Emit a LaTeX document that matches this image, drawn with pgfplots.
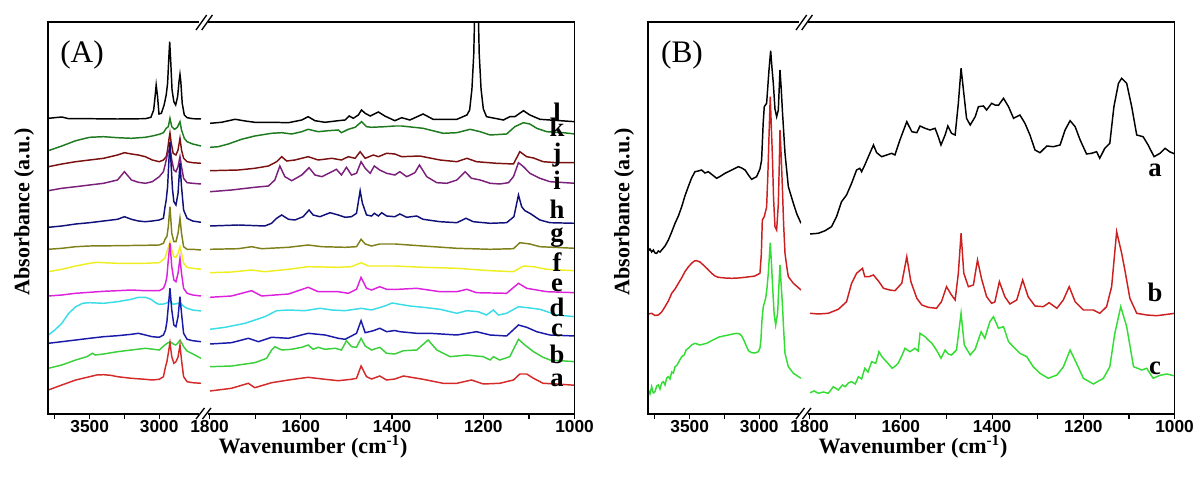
\documentclass[border=0pt]{standalone}
\usepackage{pgfplots}
\pgfplotsset{compat=1.18}
\usepackage{fontspec}
\setmainfont{Liberation Serif}
\setsansfont{Liberation Sans}
\definecolor{cA}{HTML}{D42A2A}
\definecolor{cB}{HTML}{3CCF3C}
\definecolor{cC}{HTML}{1A1AA8}
\definecolor{cD}{HTML}{3ADCE8}
\definecolor{cE}{HTML}{DD22DD}
\definecolor{cF}{HTML}{EEEE22}
\definecolor{cG}{HTML}{80801A}
\definecolor{cH}{HTML}{10107A}
\definecolor{cI}{HTML}{7A207A}
\definecolor{cJ}{HTML}{7A1010}
\definecolor{cK}{HTML}{1E7A1E}
\definecolor{bR}{HTML}{CC1F1F}
\definecolor{bG}{HTML}{33DD33}
\pgfplotsset{
 brk/.style={scale only axis, height=294pt, ymin=0, ymax=392, ytick=\empty, x dir=reverse,
   axis line style={draw=none}, xtick pos=left, tick align=outside, major tick length=3.75pt,
   tick style={black, line width=0.9pt},
   xticklabel style={font=\sffamily\bfseries\fontsize{13}{14}\selectfont, yshift=2.2pt},
   every axis plot/.append style={line width=1.1pt, no markers}},
 segL/.style={brk, width=114.83pt, xmin=2700, xmax=3800, xtick={3750,3500,3250,3000}, xticklabels={,3500,,3000}},
 segR/.style={brk, width=273.75pt, xmin=1000, xmax=1800, xtick={1800,1700,1600,1500,1400,1300,1200,1100,1000}, xticklabels={1800,,1600,,1400,,1200,,1000}},
}
\begin{document}
\begin{tikzpicture}
\path[use as bounding box] (0,0) rectangle (900pt,366.75pt);
% ===== Panel A, left segment =====
\begin{axis}[segL, at={(35.925pt,56.25pt)}, anchor=south west]
\addplot[black] coordinates {(3797,295.7)(3700,297)(3650,295.3)(3500,295.3)(3300,295)(3100,295.3)(3060,296.7)(3040,304)(3030,317.3)(3022,329)(3012,317.3)(3002,300)(2985,300.7)(2965,309)(2950,319)(2940,330.7)(2932,354)(2925,372.3)(2918,354)(2908,324)(2895,312.3)(2882,309)(2868,317.3)(2858,332.3)(2851,339.7)(2845,332.3)(2835,310.7)(2820,299)(2800,296.3)(2760,295.3)(2700,295)};
\addplot[cK] coordinates {(3797,263.3)(3700,268)(3600,273.3)(3500,276.7)(3400,277.3)(3300,276.3)(3200,275.7)(3100,276.7)(3050,278)(3000,279.7)(2970,281.3)(2950,285.7)(2935,287.3)(2923,295.7)(2910,287.3)(2890,284.7)(2870,286.7)(2851,292.3)(2840,284)(2820,275.7)(2800,272.3)(2760,270)(2700,268)};
\addplot[cJ] coordinates {(3797,247.3)(3700,250)(3600,252.3)(3500,254)(3400,255.7)(3300,259)(3250,261.3)(3200,260)(3150,259)(3100,257.3)(3050,254)(3000,252.3)(2970,254)(2950,257.3)(2940,264)(2930,275)(2923,281)(2915,272)(2900,260.7)(2880,259)(2865,264)(2851,275.7)(2840,264)(2825,255.7)(2800,252.3)(2760,251.3)(2700,250.7)};
\addplot[cI] coordinates {(3797,223.3)(3700,225.7)(3600,227.3)(3500,229)(3400,230.7)(3300,234)(3280,237.3)(3250,242.3)(3220,237.3)(3200,234)(3150,231.7)(3100,230.7)(3050,232.3)(3000,237.3)(2970,242.3)(2955,250.7)(2940,260.7)(2923,266)(2910,254)(2895,244)(2880,242.3)(2865,247.3)(2851,257.3)(2840,247.3)(2825,235.7)(2800,231.3)(2760,230.7)(2700,230)};
\addplot[cH] coordinates {(3797,186.7)(3700,188)(3600,190)(3500,191.3)(3400,193)(3300,194.7)(3250,197.3)(3200,194.7)(3150,193)(3100,192.3)(3050,193)(3000,194)(2970,195.7)(2960,205.7)(2950,214)(2940,227.3)(2930,255)(2923,272)(2915,250)(2905,225)(2895,212.3)(2880,209)(2865,220.7)(2851,250.7)(2840,227.3)(2825,204)(2800,195.7)(2760,193)(2700,191.7)};
\addplot[cG] coordinates {(3797,164.7)(3700,165.7)(3600,167.3)(3500,168)(3300,168.3)(3100,168.7)(3000,169)(2970,170.7)(2955,175.7)(2945,177.3)(2935,187.3)(2923,207.3)(2910,180.7)(2895,172.3)(2880,172.3)(2865,180.7)(2851,195.7)(2840,180.7)(2825,167.3)(2800,164.7)(2760,164.7)(2700,164)};
\addplot[cF] coordinates {(3797,142.3)(3700,144.7)(3600,148)(3500,150.7)(3450,151.7)(3400,151.3)(3300,150.7)(3100,150.7)(3000,151.3)(2960,155.7)(2940,164)(2923,172.3)(2910,164)(2895,157.3)(2880,156.7)(2865,160.7)(2851,167.3)(2840,160.7)(2825,150.7)(2800,146.7)(2760,145.7)(2700,144.7)};
\addplot[cE] coordinates {(3797,118)(3700,119)(3600,120.7)(3500,121.7)(3400,122.7)(3300,123.3)(3200,124)(3100,123.3)(3000,123.3)(2970,125.7)(2955,130.7)(2945,137.3)(2935,154)(2923,170.7)(2910,147.3)(2895,134)(2880,132.3)(2865,140.7)(2851,155.7)(2840,140.7)(2825,125.7)(2800,120.7)(2760,119)(2700,118)};
\addplot[cD] coordinates {(3797,79)(3750,84)(3700,90.7)(3650,100.7)(3600,107.3)(3550,110.7)(3500,111.3)(3400,110.7)(3300,112.3)(3200,114.7)(3150,116.7)(3100,116.7)(3060,114.7)(3020,110.7)(3000,109.7)(2970,110)(2950,110.7)(2923,113)(2900,109.7)(2851,111)(2820,107.3)(2800,105.7)(2760,104)(2700,103)};
\addplot[cC] coordinates {(3797,70.7)(3700,72.3)(3600,74)(3500,75.7)(3400,77.3)(3300,78.3)(3200,79.7)(3150,80.7)(3100,79)(3050,77.3)(3000,76.7)(2970,79)(2955,84)(2945,92.3)(2935,107.3)(2923,125.7)(2910,104)(2895,89)(2880,87.3)(2865,97.3)(2851,117.3)(2840,100.7)(2825,80.7)(2800,74.7)(2760,73.3)(2700,72.3)};
\addplot[cB] coordinates {(3797,45.7)(3700,49)(3600,54)(3520,57.3)(3480,60.7)(3460,59)(3400,60)(3300,62.3)(3200,64)(3100,65.7)(3000,64)(2960,69)(2940,71)(2920,72.3)(2900,70)(2882,69)(2865,71)(2851,74)(2835,70)(2825,67.3)(2800,63)(2767,60.7)(2700,55.7)};
\addplot[cA] coordinates {(3797,24)(3700,29)(3600,34)(3500,37.3)(3450,39)(3400,39.3)(3350,38.7)(3300,37.3)(3200,35.7)(3100,34.7)(3050,34)(3000,34.7)(2970,37.3)(2955,47.3)(2945,52.3)(2935,60.7)(2923,71.3)(2910,57.3)(2895,50.7)(2880,52.3)(2865,57)(2851,69)(2840,54)(2825,37.3)(2800,32.3)(2760,31.3)(2700,30.7)};
\end{axis}
% ===== Panel A, right segment =====
\begin{axis}[segR, at={(157.2pt,56.25pt)}, anchor=south west]
\addplot[black] coordinates {(1799,290.7)(1774,291.7)(1744,294.7)(1722,293)(1701,291.7)(1664,291.7)(1627,291.3)(1598,294)(1584,297.3)(1569,293.3)(1547,291.7)(1518,293.3)(1503,294)(1494,298)(1485,295.7)(1474,299)(1467,304)(1459,300.7)(1448,298)(1430,302)(1416,298)(1394,293.3)(1379,296.3)(1361,294)(1332,300)(1310,294.7)(1258,294.7)(1236,299)(1230,304)(1225,325)(1221,360)(1218,420)(1215,480)(1212,420)(1209,360)(1205,325)(1200,305)(1193,297.3)(1156,294)(1142,297.3)(1131,297.3)(1112,303.3)(1098,299)(1076,294.7)(1054,294)(999,292.3)};
\addplot[cK] coordinates {(1799,266.7)(1781,267.3)(1759,270)(1730,274.7)(1701,278)(1664,280.7)(1642,281.3)(1620,280)(1598,282.3)(1584,284.7)(1562,282.3)(1540,283.3)(1518,284)(1511,281.3)(1496,284.7)(1481,286.7)(1467,292.3)(1456,287.3)(1445,286.7)(1416,287.3)(1394,288)(1379,288)(1332,285.7)(1288,280.7)(1258,281.3)(1229,284.7)(1207,282.3)(1185,279)(1149,280)(1131,287.3)(1112,291.3)(1098,290)(1083,285.7)(1061,282.3)(1025,281.3)(999,280)};
\addplot[cJ] coordinates {(1799,243.3)(1737,244)(1701,245.7)(1671,248)(1653,252.3)(1642,257.3)(1631,253)(1613,254)(1584,257.3)(1562,254)(1532,255.7)(1511,254)(1496,257.3)(1481,255.7)(1470,262.3)(1459,255.7)(1441,259)(1430,257.3)(1412,260.7)(1394,260)(1379,257.3)(1339,258)(1295,254)(1258,252.3)(1236,255.7)(1215,252.3)(1171,250.7)(1134,250)(1120,262.3)(1105,257.3)(1090,256)(1069,252.3)(1039,251.3)(999,251.3)};
\addplot[cI] coordinates {(1799,222.3)(1752,224)(1701,226.7)(1671,228)(1657,234)(1646,248)(1635,237.3)(1620,233.3)(1598,239)(1582,246.3)(1569,239)(1554,237.3)(1532,242.3)(1522,244.7)(1511,239)(1500,246.7)(1489,239)(1478,240.7)(1468,252.3)(1459,245.7)(1448,240.7)(1439,248)(1427,244)(1412,240.7)(1394,239)(1383,242.3)(1368,237.3)(1350,241.3)(1340,249)(1324,237.3)(1302,231.3)(1280,230.7)(1258,234)(1240,242.3)(1226,235.7)(1207,234)(1185,230.7)(1164,230)(1145,231.3)(1134,237.3)(1123,251.3)(1112,247.3)(1098,240.7)(1076,235.7)(1054,232.3)(999,230.7)};
\addplot[cH] coordinates {(1799,188)(1737,189)(1679,188)(1664,190.7)(1653,195.7)(1642,199)(1627,194.7)(1613,194)(1595,197.3)(1582,204)(1573,199)(1558,197.3)(1536,201.3)(1518,199)(1503,196.7)(1489,197.3)(1478,200.7)(1470,223.3)(1465,210.7)(1456,199)(1445,198)(1439,200.7)(1430,198)(1423,201.3)(1412,198)(1394,197.3)(1383,200)(1368,196.7)(1346,198)(1332,194.7)(1295,192.3)(1258,191.3)(1238,195.7)(1222,192.3)(1185,190.7)(1149,191.3)(1133,197.3)(1123,219)(1116,207.3)(1109,203.3)(1098,200.7)(1076,194)(1054,191.3)(999,190.7)};
\addplot[cG] coordinates {(1799,164.7)(1737,165.3)(1708,167.3)(1686,165.3)(1627,166.7)(1584,169)(1554,167.3)(1503,166.7)(1478,167.3)(1468,174.7)(1459,170)(1445,168)(1427,170)(1394,170)(1332,168)(1258,165.7)(1185,164.7)(1134,165.3)(1120,171.3)(1098,170)(1076,167.3)(999,165.7)};
\addplot[cF] coordinates {(1799,141.3)(1752,142)(1708,144)(1679,142.3)(1627,144.7)(1584,147.3)(1518,146.7)(1489,147.3)(1468,151.3)(1452,148)(1394,148)(1332,146.7)(1258,145.7)(1185,143.3)(1134,142.3)(1112,148)(1090,147.3)(1061,144.7)(999,143.3)};
\addplot[cE] coordinates {(1799,116.7)(1752,118)(1708,123.3)(1686,118)(1627,120)(1584,126.7)(1562,122.3)(1518,122.3)(1496,120.7)(1478,124.7)(1468,136.7)(1456,125.7)(1445,124)(1427,127.3)(1412,124.7)(1394,124.5)(1346,125.7)(1295,122.3)(1258,122.3)(1236,124.7)(1215,121.3)(1149,120.7)(1123,130.7)(1105,125.7)(1083,124)(1061,122.3)(999,121.3)};
\addplot[cD] coordinates {(1799,84.7)(1766,86.7)(1722,90.7)(1679,97.3)(1653,103.3)(1627,104)(1591,103.3)(1558,105.7)(1532,104)(1503,103.3)(1467,105.7)(1445,104)(1416,108)(1400,111)(1361,108)(1332,106.7)(1295,104.7)(1258,100.7)(1236,103.3)(1211,102.3)(1193,99)(1178,104)(1167,99)(1149,100.7)(1123,107.3)(1098,106)(1076,104.7)(1039,99)(999,97.3)};
\addplot[cC] coordinates {(1799,70)(1752,71.3)(1715,75.7)(1693,72.3)(1664,76.7)(1627,75.7)(1584,80.7)(1547,79)(1518,75.7)(1503,74.7)(1489,78)(1478,80.7)(1468,93.3)(1459,81.3)(1441,83.3)(1427,85.7)(1412,82.3)(1394,83.5)(1383,82.3)(1346,80.7)(1317,80.7)(1258,79)(1215,82.3)(1185,79)(1149,78)(1123,89)(1105,86.7)(1083,82.3)(1054,79)(999,78)};
\addplot[cB] coordinates {(1799,47.3)(1752,48)(1701,51.3)(1675,55.7)(1664,64)(1657,67.3)(1642,64)(1620,64.7)(1598,66.7)(1584,69)(1573,64.7)(1562,66.7)(1547,64.7)(1525,65.7)(1511,64)(1500,73.3)(1489,67.3)(1478,66.7)(1468,75.7)(1459,68)(1445,64)(1427,66.7)(1412,60.7)(1394,60)(1375,63.3)(1346,64)(1321,74)(1302,64)(1273,57.3)(1236,59)(1200,57.3)(1185,54)(1178,57.3)(1164,54)(1142,57.3)(1123,74.7)(1109,69)(1090,62.3)(1069,56.7)(1054,54)(999,52.3)};
\addplot[cA] coordinates {(1799,23)(1752,25.7)(1715,30.7)(1701,26.3)(1664,31.3)(1627,34)(1584,36.7)(1547,34.7)(1518,33.3)(1489,34.7)(1478,35.7)(1468,48)(1456,37.3)(1445,35)(1427,38)(1412,34)(1394,35)(1375,38)(1332,34.7)(1288,30.7)(1258,30.7)(1226,34)(1200,30)(1164,30.7)(1134,34)(1120,40)(1105,40)(1090,35.7)(1069,30.7)(1039,30)(999,28.7)};
\end{axis}
% ===== Panel B, left segment =====
\begin{axis}[segL, at={(485.925pt,56.25pt)}, anchor=south west]
\addplot[black] coordinates {(3797,163.3)(3785,165)(3773,162)(3761,164)(3749,161)(3737,160.7)(3725,163)(3713,162)(3701,164)(3677,168)(3653,174)(3629,182)(3605,190.7)(3581,198)(3557,207.3)(3534,218)(3510,227.3)(3486,236)(3462,242.3)(3438,243)(3414,244)(3390,241)(3366,242.3)(3336,239)(3306,235.7)(3276,238)(3246,240.7)(3198,244)(3150,247.3)(3126,246)(3102,244)(3078,239)(3055,234.7)(3019,237.3)(2995,245)(2983,254)(2972,290)(2964,307.3)(2947,310.7)(2930,344)(2918,363.3)(2908,345)(2899,330.7)(2887,305)(2875,297.3)(2863,304)(2851,344)(2842,325)(2834,304)(2815,260.7)(2791,227.3)(2755,210.7)(2730,200)(2700,190.7)};
\addplot[bR] coordinates {(3797,100)(3773,100.7)(3749,98.5)(3725,99)(3701,102)(3677,107.3)(3653,113)(3629,120.7)(3605,125)(3581,130.7)(3558,136)(3534,142.3)(3510,147)(3486,150.7)(3466,153)(3450,153.3)(3426,152)(3402,149)(3372,145)(3342,140.7)(3318,138)(3294,136.7)(3246,136)(3198,135.7)(3150,136)(3102,136.7)(3055,137.5)(3031,138)(2995,140.7)(2985,160)(2978,194)(2964,197.3)(2947,207)(2938,240)(2930,277.3)(2921,317.3)(2914,290)(2906,260)(2897,215)(2887,187.3)(2875,184)(2863,210)(2856,250)(2851,284)(2843,260)(2834,227.3)(2825,190)(2815,160.7)(2800,145)(2791,137.3)(2755,130.7)(2700,124)};
\addplot[bG] coordinates {(3797,24)(3785,20)(3773,27.3)(3761,21)(3749,22.3)(3737,28)(3725,29)(3713,25)(3701,31)(3689,32.3)(3677,29)(3665,36)(3653,37.3)(3641,35)(3629,42)(3617,41)(3605,47.3)(3590,49)(3575,53)(3557,57.3)(3540,59)(3525,64)(3510,65.7)(3486,69)(3462,70.7)(3426,69)(3378,70.7)(3342,73.3)(3294,76.7)(3258,78)(3222,79)(3190,80)(3162,80.7)(3140,80)(3126,78)(3108,73)(3091,67.3)(3075,63)(3055,61.3)(3030,61)(3007,62.3)(2995,66)(2988,74)(2980,95)(2971,107.3)(2954,115.7)(2945,125)(2935,140.7)(2921,171.3)(2912,150)(2904,127.3)(2893,100)(2882,89)(2868,101)(2860,125)(2851,149)(2843,130)(2834,110.7)(2825,85)(2815,60.7)(2791,47.3)(2755,40.7)(2700,35.7)};
\end{axis}
% ===== Panel B, right segment =====
\begin{axis}[segR, at={(607.2pt,56.25pt)}, anchor=south west]
\addplot[black] coordinates {(1799,180)(1781,180.7)(1766,183.3)(1752,187.3)(1741,197.3)(1730,212.3)(1719,219)(1708,230.7)(1697,244)(1690,245.7)(1686,242.3)(1679,249)(1668,260.7)(1660,269)(1653,261.3)(1642,257.3)(1631,259)(1620,260.7)(1613,259)(1602,274)(1587,292.3)(1576,282.3)(1565,281.3)(1558,288)(1547,285.7)(1536,284)(1525,285.7)(1518,277.3)(1512,269)(1503,279)(1497,288)(1489,280.7)(1481,279)(1474,310.7)(1468,345.7)(1462,320.7)(1456,295.7)(1448,289)(1437,297.3)(1430,307.3)(1419,308)(1412,304)(1401,310.7)(1394,309)(1386,308.7)(1375,315.7)(1364,307.3)(1353,295.7)(1339,299)(1328,290.7)(1317,279)(1306,264)(1295,261.3)(1280,268)(1266,267.3)(1251,269)(1240,284)(1229,293.3)(1218,287.3)(1207,274)(1193,260)(1182,260.7)(1171,262.3)(1164,255.7)(1153,265.7)(1142,270.7)(1133,307.3)(1123,330.7)(1116,335.7)(1105,330.7)(1094,307.3)(1083,279)(1069,277.3)(1058,269)(1045,257.3)(1032,260.7)(1021,265.7)(1010,262)(999,260)};
\addplot[bR] coordinates {(1799,100.7)(1781,100)(1759,100.7)(1737,104.7)(1719,112.3)(1708,130.7)(1697,140.7)(1684,145.7)(1679,137.3)(1670,137.3)(1660,139)(1648,132.3)(1638,125.7)(1624,124)(1613,123.3)(1598,130.7)(1587,157.3)(1578,132.3)(1565,115.7)(1554,109)(1540,106.7)(1522,105.7)(1511,112.3)(1500,127.3)(1489,119)(1481,114)(1474,140.7)(1468,180.7)(1462,140.7)(1452,127.3)(1441,129)(1432,154)(1423,135)(1412,117.3)(1401,110.7)(1394,112)(1384,132.3)(1372,117.3)(1361,110)(1346,114)(1333,134)(1321,117.3)(1306,108)(1288,107.3)(1275,111.3)(1258,105.7)(1244,114)(1231,127.3)(1218,112.3)(1200,104)(1178,104)(1164,100.7)(1149,107.3)(1138,127.3)(1127,182.3)(1116,160.7)(1109,144)(1098,115.7)(1083,100.7)(1061,99)(1039,98.3)(999,100.7)};
\addplot[bG] coordinates {(1799,21.3)(1790,23)(1781,20.7)(1770,22)(1759,20.7)(1748,27.3)(1737,24)(1728,29)(1722,27.3)(1715,31)(1708,32.3)(1700,30)(1693,37.3)(1686,35)(1679,45.7)(1672,42)(1664,52.3)(1655,50.7)(1648,62.3)(1641,57)(1635,54)(1627,50)(1619,45.7)(1612,48)(1606,50.7)(1598,58)(1591,65.7)(1580,62.3)(1569,65.7)(1562,63)(1558,80.7)(1547,77.3)(1540,74)(1532,70.7)(1522,64)(1512,55.7)(1503,64)(1496,60)(1489,59)(1478,64)(1468,100.7)(1461,69)(1448,59)(1437,65)(1424,82.3)(1416,75.7)(1405,92.3)(1397,97.3)(1386,85.7)(1375,87.3)(1364,72.3)(1350,65.7)(1339,60.7)(1324,57.3)(1310,47.3)(1295,40.7)(1277,35.7)(1258,39)(1244,47)(1229,64)(1215,50.7)(1200,35.7)(1178,30)(1156,35.7)(1142,47.3)(1131,80.7)(1118,107.3)(1105,87.3)(1090,47.3)(1072,44)(1061,45.7)(1047,35.7)(1032,38.7)(1017,40)(999,38)};
\end{axis}
% ===== frames, breaks, labels (pixel units) =====
\begin{scope}[x=0.75pt,y=-0.75pt,shift={(0pt,366.75pt)}]
\foreach \dx in {0,600}{
 \begin{scope}[xshift=\dx*0.75pt]
 \draw[line width=1.2pt] (199,22) -- (47.9,22) -- (47.9,414) -- (199,414);
 \draw[line width=1.2pt] (208,22) -- (574.6,22) -- (574.6,414) -- (208,414);
 \draw[line width=1pt] (196,30) -- (206.7,15) (201.7,30) -- (212.4,15);
 \draw[line width=1pt] (196,419) -- (204.5,408) (202.5,419) -- (211,408);
 \node[rotate=90, font=\bfseries\fontsize{16.5}{17}\selectfont] at (24,212) {Absorbance (a.u.)};
 \node[font=\bfseries\fontsize{16.5}{17}\selectfont] at (313,447) {Wavenumber (cm\textsuperscript{-1})};
 \end{scope}
}
\node[font=\fontsize{23.5}{24}\selectfont] at (82,55) {(A)};
\node[font=\fontsize{23.5}{24}\selectfont] at (682,55) {(B)};
\begin{scope}[every node/.style={anchor=base, font=\bfseries\fontsize{20}{20}\selectfont, inner sep=0pt}]
\node at (557,121.7) {l};
\node at (557,136.7) {k};
\node at (557,162) {j};
\node at (557,190) {i};
\node at (557,218.3) {h};
\node at (557,241.4) {g};
\node at (557,271.7) {f};
\node at (557,291.7) {e};
\node at (557,316.7) {d};
\node at (557,336.7) {c};
\node at (557,363.3) {b};
\node at (557,386.7) {a};
\node at (1155,176.7) {a};
\node at (1155,301.7) {b};
\node at (1155,375) {c};
\end{scope}
\end{scope}
\end{tikzpicture}
\end{document}
